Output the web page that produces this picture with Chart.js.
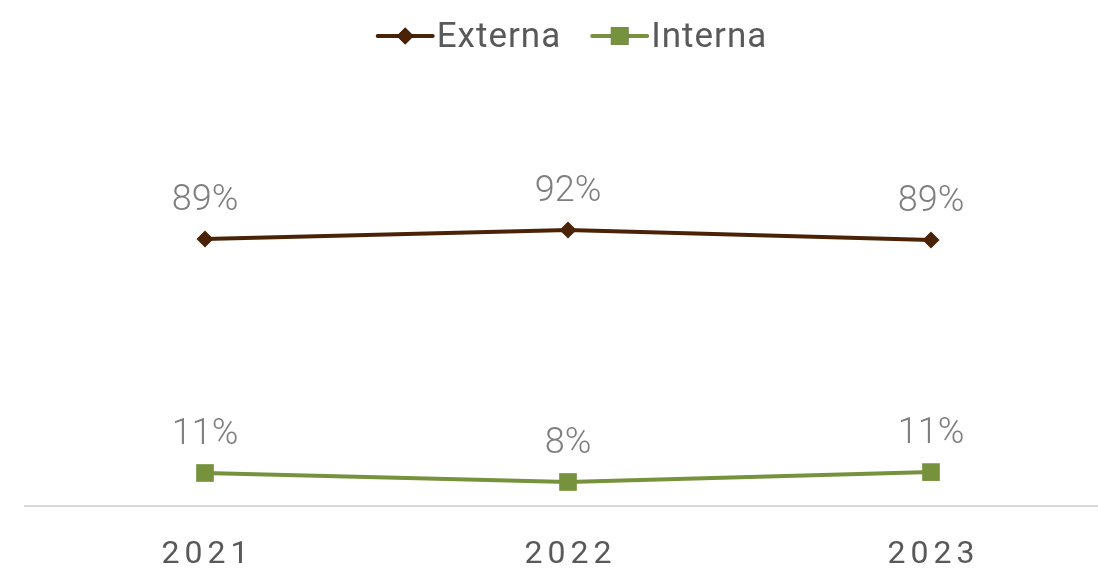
<!DOCTYPE html>
<html>
<head>
<meta charset="utf-8">
<script src="https://cdn.jsdelivr.net/npm/chart.js@4"></script>
<style>
html,body{margin:0;padding:0;background:#fff;}
#wrap{width:1098px;height:584px;position:relative;}
</style>
</head>
<body>
<div id="wrap"><canvas id="c" width="1098" height="584"></canvas></div>
<script>
const categories = ['2021', '2022', '2023'];
const externa = [89.0, 92.0, 88.7];
const interna = [11.0, 8.0, 11.3];
const seriesNames = ['Externa', 'Interna'];
const colors = ['#4a2307', '#76923c'];

const FONT = 'Roboto, "Noto Sans", sans-serif';

const labelPlugin = {
  id: 'pointLabels',
  afterDatasetsDraw(chart) {
    const ctx = chart.ctx;
    ctx.save();
    ctx.font = '300 36px ' + FONT;
    ctx.fillStyle = '#7f7f7f';
    ctx.textAlign = 'center';
    ctx.textBaseline = 'middle';
    chart.data.datasets.forEach((ds, di) => {
      const meta = chart.getDatasetMeta(di);
      meta.data.forEach((pt, i) => {
        const v = ds.data[i].y;
        ctx.fillText(Math.round(v) + '%', pt.x, pt.y - 38);
      });
    });
    ctx.restore();
  }
};

const legendPlugin = {
  id: 'customLegend',
  afterDraw(chart) {
    const ctx = chart.ctx;
    ctx.save();
    ctx.font = '35px ' + FONT;
    ctx.letterSpacing = '1px';
    ctx.textBaseline = 'middle';
    ctx.textAlign = 'left';
    const y = 36;
    const lineW = 55, gap = 4, between = 31;
    let widths = chart.data.datasets.map(ds => lineW + gap + ctx.measureText(ds.label).width);
    let total = widths.reduce((a, b) => a + b, 0) + between * (widths.length - 1);
    let x = 572.5 - total / 2;
    chart.data.datasets.forEach((ds, i) => {
      ctx.strokeStyle = ds.borderColor;
      ctx.lineWidth = 4;
      ctx.lineCap = 'round';
      ctx.beginPath();
      ctx.moveTo(x, y);
      ctx.lineTo(x + lineW, y);
      ctx.stroke();
      Chart.helpers.drawPoint(ctx, {pointStyle: ds.pointStyle, radius: ds.pointRadius, borderWidth: 0, rotation: 0},
        x + lineW / 2, y);
      ctx.fillStyle = ds.backgroundColor;
      ctx.fill();
      ctx.fillStyle = '#595959';
      ctx.fillText(ds.label, x + lineW + gap, y + 2);
      x += widths[i] + between;
    });
    ctx.restore();
  }
};

const spacingPlugin = {
  id: 'tickSpacing',
  afterLayout(chart) {
    const s = chart.scales.x;
    if (s._patched) return;
    const orig = s.drawLabels;
    s.drawLabels = function (area) {
      const ctx = this.ctx;
      ctx.save();
      ctx.letterSpacing = '5px';
      ctx.translate(2.5, 0);
      orig.call(this, area);
      ctx.restore();
    };
    s._patched = true;
  }
};

const datasets = [externa, interna].map((arr, k) => ({
  label: seriesNames[k],
  data: arr.map((v, i) => ({x: i, y: v})),
  borderColor: colors[k],
  backgroundColor: colors[k],
  borderWidth: 4,
  pointStyle: k === 0 ? 'rectRot' : 'rect',
  pointRadius: k === 0 ? 8.5 : 12.5,
  pointBorderWidth: 0,
  pointBackgroundColor: colors[k],
  tension: 0
}));

new Chart(document.getElementById('c'), {
  type: 'line',
  data: {datasets},
  plugins: [labelPlugin, legendPlugin, spacingPlugin],
  options: {
    responsive: false,
    animation: false,
    devicePixelRatio: 1,
    layout: {autoPadding: false, padding: {left: 25, right: 1, top: 86, bottom: 0}},
    plugins: {legend: {display: false}, tooltip: {enabled: false}},
    scales: {
      x: {
        type: 'linear',
        min: -180 / 363,
        max: 2 + 166 / 363,
        afterBuildTicks: (s) => { s.ticks = categories.map((c, i) => ({value: i})); },
        afterFit: (s) => { s.height = 78; s.paddingLeft = 0; s.paddingRight = 0; },
        grid: {display: false, drawTicks: false},
        border: {display: true, color: '#d9d9d9', width: 2},
        ticks: {
          callback: (v) => categories[v],
          font: {family: FONT, size: 32},
          color: '#595959',
          padding: 30,
          maxRotation: 0,
          autoSkip: false
        }
      },
      y: {
        display: false,
        min: 0,
        max: 140
      }
    }
  }
});
</script>
</body>
</html>
